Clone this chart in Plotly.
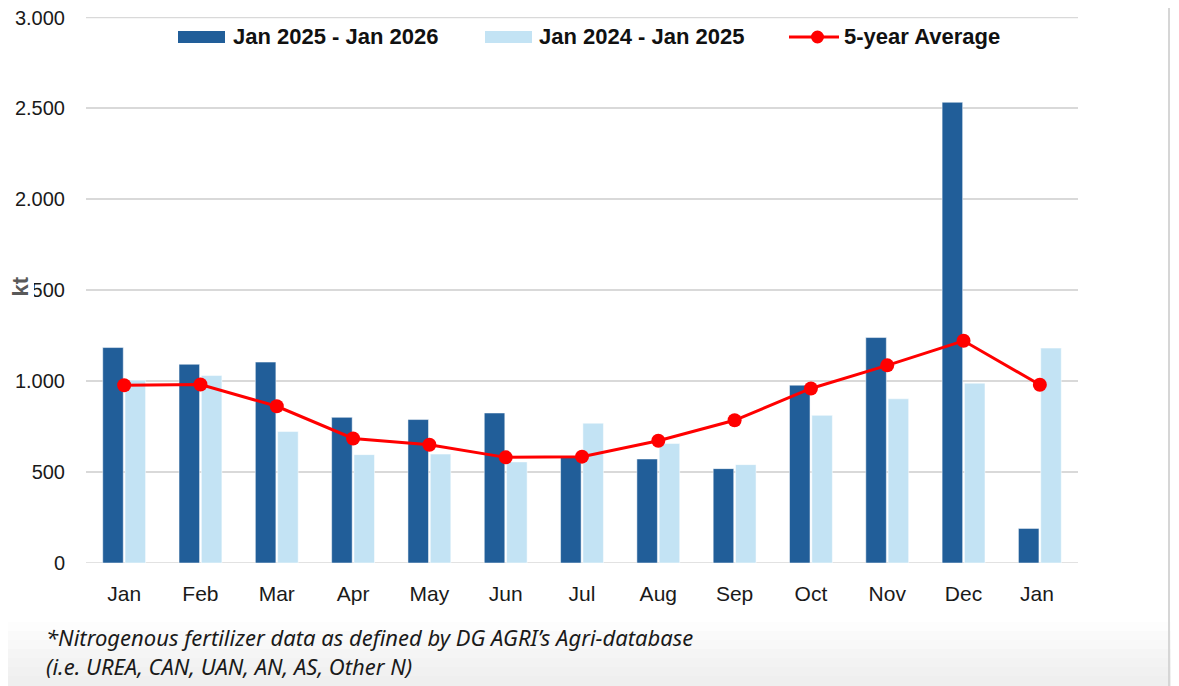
import plotly.graph_objects as go

months = ["Jan", "Feb", "Mar", "Apr", "May", "Jun", "Jul", "Aug", "Sep", "Oct", "Nov", "Dec", "Jan "]
kt_2025 = [1185, 1093, 1105, 801, 789, 825, 583, 572, 519, 978, 1240, 2534, 190]
kt_2024 = [1005, 1031, 723, 596, 599, 556, 769, 657, 541, 812, 903, 989, 1182]
avg_5y = [978, 982, 862, 685, 650, 581, 585, 672, 785, 960, 1087, 1222, 980]
y_ticks = [0, 500, 1000, 1500, 2000, 2500, 3000]

names = ["Jan 2025 - Jan 2026", "Jan 2024 - Jan 2025", "5-year Average"]
dark, light, red = "#215E99", "#C3E3F4", "#FF0000"

# page body has an 8px margin, so the figure sits 8px in from the screenshot corner
OFF = 8
W, H = 1179 - OFF, 686 - OFF
L, R, T, B = 86 - OFF, 101, 17 - OFF, 123
pw, ph = W - L - R, H - T - B

# screen pixel -> paper coords
def px(x):
    return (x - OFF - L) / pw

def py(y):
    return (H + OFF - B - y) / ph

fig = go.Figure()
fig.add_trace(go.Bar(x=months, y=kt_2025, name=names[0], marker_color=dark))
fig.add_trace(go.Bar(x=months, y=kt_2024, name=names[1], marker_color=light))
fig.add_trace(go.Scatter(x=months, y=avg_5y, mode="lines+markers", name=names[2],
                         line=dict(color=red, width=3), marker=dict(color=red, size=14)))

# hand drawn legend, the excel one has wide swatches
fig.add_shape(type="rect", xref="paper", yref="paper", x0=px(178), x1=px(225), y0=py(43), y1=py(31),
              fillcolor=dark, line_width=0)
fig.add_shape(type="rect", xref="paper", yref="paper", x0=px(485), x1=px(532), y0=py(43), y1=py(31),
              fillcolor=light, line_width=0)
fig.add_shape(type="line", xref="paper", yref="paper", x0=px(789), x1=px(839), y0=py(37), y1=py(37),
              line=dict(color=red, width=3))
fig.add_shape(type="circle", xref="paper", yref="paper", x0=px(811), x1=px(824), y0=py(43.5), y1=py(30.5),
              fillcolor=red, line_width=0)
for name, x in zip(names, [231, 537, 842]):
    fig.add_annotation(text="<b>%s</b>" % name, xref="paper", yref="paper", x=px(x), y=py(37),
                       xanchor="left", yanchor="middle", showarrow=False,
                       font=dict(size=22, color="#111111", family="Liberation Sans"))

# screenshot-ish bottom shading + right edge
shades = ["#fdfdfd", "#fafafa", "#f8f8f8", "#f5f5f5", "#f3f3f3", "#f1f1f1", "#efefef"]
for i, c in enumerate(shades):
    fig.add_shape(type="rect", xref="paper", yref="paper", x0=px(OFF), x1=px(1179),
                  y0=py(686), y1=py(622 + i * 9), fillcolor=c, line_width=0, layer="below")
fig.add_shape(type="line", xref="paper", yref="paper", x0=px(1169), x1=px(1169),
              y0=py(686), y1=py(OFF), line=dict(color="#d6d6d6", width=2))

# top gridline sits right on the plot edge and plotly drops it
fig.add_hline(y=y_ticks[-1], line_color="#d9d9d9", line_width=1.5, layer="below")
fig.add_hline(y=y_ticks[0], line_color="#d9d9d9", line_width=1.5, layer="below")

fig.add_annotation(text="<b>kt</b>", xref="paper", yref="paper", x=px(19.5), y=py(287), textangle=-90,
                   xanchor="center", yanchor="middle", showarrow=False, bgcolor="white",
                   font=dict(size=22, color="#595959"))
fig.add_annotation(text="<i>*Nitrogenous fertilizer data as defined by DG AGRI’s Agri-database<br>(i.e. UREA, CAN, UAN, AN, AS, Other N)</i>",
                   xref="paper", yref="paper", x=px(44), y=py(651), xanchor="left", yanchor="middle",
                   align="left", showarrow=False, font=dict(size=22, color="#1a1a1a", family="Noto Sans"))

fig.update_layout(
    width=W, height=H, margin=dict(l=L, r=R, t=T, b=B, autoexpand=False),
    template="plotly_white", paper_bgcolor="white", plot_bgcolor="white",
    separators=",.", showlegend=False,
    barmode="group", bargap=0.415, bargroupgap=0.08,
    font=dict(family="Liberation Sans, Arial", color="#1a1a1a"),
    xaxis=dict(range=[-0.5, 12.5], showgrid=False, tickfont=dict(size=21), ticklabelstandoff=16,
               showline=False, automargin=False),
    yaxis=dict(range=[0, 3003], tickvals=y_ticks,
               separatethousands=True, tickformat=",d", ticklabeloverflow="allow",
               gridcolor="#d9d9d9", gridwidth=1.5, zeroline=False, showline=False,
               tickfont=dict(size=20), ticklabelstandoff=20, automargin=False),
)

fig.write_html("out.html")
